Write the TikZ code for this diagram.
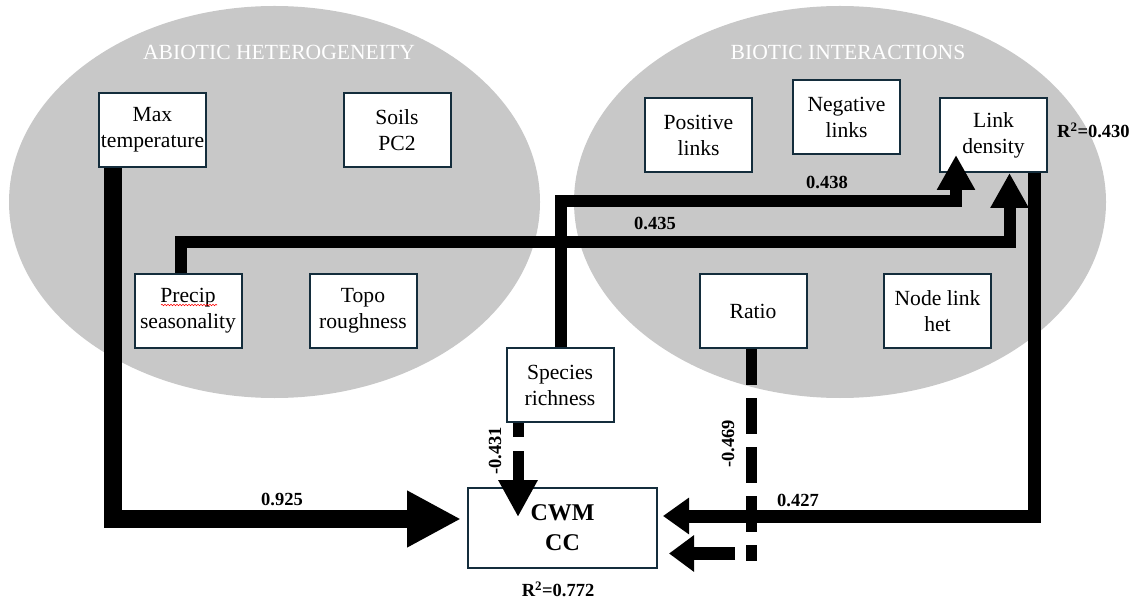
\documentclass[tikz,border=0pt]{standalone}
\usepackage{fontspec}
\setmainfont{Liberation Serif}
\usetikzlibrary{arrows.meta,decorations.pathmorphing}
\definecolor{ellgray}{RGB}{200,200,200}
\definecolor{boxline}{RGB}{20,45,60}
\begin{document}
\begin{tikzpicture}[x=1pt,y=-1pt,
  box/.style={draw=boxline,line width=2pt,fill=white,minimum width=107pt,minimum height=74pt,align=center,inner sep=0pt,font=\fontsize{21.6}{26}\selectfont},
  lbl/.style={font=\bfseries\fontsize{18.5}{22}\selectfont,inner sep=0pt},
  ttl/.style={text=white,font=\fontsize{21.6}{26}\selectfont,inner sep=0pt},
  conn/.style={line width=12pt,line join=miter},
]
\useasboundingbox (0,0) rectangle (1142,601);
% group ellipses
\fill[ellgray] (274.5,202) ellipse [x radius=265.5pt, y radius=196pt];
\fill[ellgray] (840,202) ellipse [x radius=266pt, y radius=196pt];
\node[ttl] (tabio) at (279,52) {ABIOTIC HETEROGENEITY};
\node[ttl] (tbio) at (848,52) {BIOTIC INTERACTIONS};
% boxes
\node[box] (maxt) at (152.5,130) {Max\\temperature};
\node[box] (soils) at (397,130) {Soils\\PC2};
\node[box] (precip) at (188,311) {Precip\\seasonality};
\node[box] (topo) at (363,311) {Topo\\roughness};
\node[box] (pos) at (698.5,135) {Positive\\links};
\node[box] (neg) at (846.5,117) {Negative\\links};
\node[box] (link) at (993.5,135) {Link\\density};
\node[box] (ratio) at (753,311) {Ratio};
\node[box] (nlh) at (937.5,311) {Node link\\het};
\node[box] (spr) at (560,385) {Species\\richness};
\node[box,minimum width=189pt,minimum height=80pt,font=\bfseries\fontsize{24}{30}\selectfont] (cwm) at (562.5,528) {CWM\\CC};
% spell-check squiggle
\draw[red,line width=0.6pt,decorate,decoration={snake,amplitude=0.7pt,segment length=3pt}] (161,305) -- (217,305);
% connectors
\draw[conn,line width=18pt,-{Triangle[width=53pt,length=54pt]}] ([xshift=-39.5pt]maxt.south) |- ([xshift=-6pt,yshift=9pt]cwm.west);
\draw[conn,-{Triangle[width=36pt,length=35pt]}] ([xshift=1pt]spr.north) -- ++(0,-146) -| ([xshift=-37.5pt,yshift=18pt]link.south);
\draw[conn,-{Triangle[width=36pt,length=35pt]}] ([xshift=-7pt]precip.north) -- ++(0,-30.5) -| ([xshift=16pt]link.south);
\draw[conn,line width=13pt,-{Triangle[width=35pt,length=26pt]}] ([xshift=40.5pt]link.south) |- ([xshift=5pt,yshift=12pt]cwm.east);
\draw[conn,line width=11pt,dash pattern=on 14pt off 14pt on 300pt,-{Triangle[width=37pt,length=37pt]}] ([xshift=-42pt]spr.south) -- ([xshift=-44.5pt,yshift=-30pt]cwm.north);
\coordinate (rbend) at (751,561);
\coordinate (rstart) at (735,553.5);
\draw[conn,line width=11pt,dash pattern=on 36pt off 13pt] ([xshift=-2pt]ratio.south) -- (rbend);
\draw[conn,line width=13pt,-{Triangle[width=35pt,length=25pt]}] (rstart) -- ([xshift=11pt,yshift=-25.5pt]cwm.east);
% labels
\node[lbl] (l925) at (282,499) {0.925};
\node[lbl] (l438) at (827,182) {0.438};
\node[lbl] (l435) at (655,223) {0.435};
\node[lbl] (l427) at (798,500) {0.427};
\node[lbl,rotate=90] (l431) at (495,451) {-0.431};
\node[lbl,rotate=90] (l469) at (728,444) {-0.469};
\node[lbl,anchor=west] (r430) at (1057,130) {R\textsuperscript{2}=0.430};
\node[lbl] (r772) at (558,589) {R\textsuperscript{2}=0.772};
\end{tikzpicture}
\end{document}
